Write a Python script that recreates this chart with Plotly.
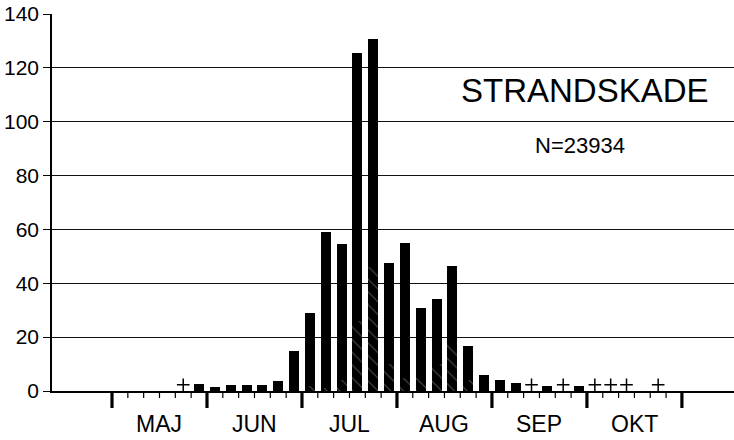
import plotly.graph_objects as go

# ---- data (pentads, 6 per month, May-October) ----
months = ["MAJ", "JUN", "JUL", "AUG", "SEP", "OKT"]
pentads_per_month = 6
totals = [0, 0, 0, 0, 0, 2.6,
          1.6, 2.1, 2.4, 2.1, 3.6, 15,
          28.8, 59, 54.5, 125.5, 130.8, 47.5,
          55, 30.8, 34, 46.3, 16.6, 6,
          4.1, 3, 0, 2, 0, 1.9,
          0, 0, 0, 0, 0, 0]
hatched = [0, 0, 0, 0, 0, 0,
           0, 0, 0, 0, 0, 0,
           2, 1, 4, 26, 46, 10,
           5, 5, 10, 18, 4, 0,
           0, 0, 0, 0, 0, 0,
           0, 0, 0, 0, 0, 0]
trace_pentads = [4, 26, 28, 30, 31, 32, 34]   # "+" = present, < 0.5
title_text = "STRANDSKADE"
n_text = "N=23934"
y_ticks = [0, 20, 40, 60, 80, 100, 120, 140]

n = len(totals)
x = list(range(n))
solid = [t - h for t, h in zip(totals, hatched)]
FONT = "Liberation Sans, Arial, Helvetica, sans-serif"
PLOT_H = 440 - 14 - 49

fig = go.Figure()
fig.add_trace(go.Bar(
    x=x, y=hatched, width=0.63,
    marker=dict(color="black", line=dict(width=0),
                pattern=dict(shape="\\", fgcolor="#9a9a9a", bgcolor="black",
                             size=9, solidity=0.12)),
    showlegend=False, hoverinfo="skip"))
fig.add_trace(go.Bar(
    x=x, y=solid, width=0.63,
    marker=dict(color="black", line=dict(width=0)),
    showlegend=False, hoverinfo="skip"))
fig.add_trace(go.Scatter(
    x=trace_pentads, y=[2.3] * len(trace_pentads), mode="markers",
    marker=dict(symbol="cross-thin", size=9, line=dict(color="black", width=1.5)),
    showlegend=False, hoverinfo="skip", cliponaxis=False))

month_bounds = [m * pentads_per_month - 0.5 for m in range(len(months) + 1)]
pentad_bounds = [i - 0.5 for i in range(n + 1)]

# pentad (minor) ticks and month (major) ticks below the axis
for b in pentad_bounds:
    major = b in month_bounds
    fig.add_shape(type="line", xref="x", yref="paper", x0=b, x1=b,
                  y0=0, y1=-(17 if major else 7) / PLOT_H,
                  line=dict(color="black", width=3.2 if major else 1.2))

fig.update_layout(
    width=734, height=440,
    margin=dict(l=52, r=0, t=14, b=49),
    paper_bgcolor="white", plot_bgcolor="white",
    barmode="stack", bargap=0,
    font=dict(family=FONT, color="black"),
    xaxis=dict(range=[-4.29, 38.79], showgrid=False, zeroline=False,
               showline=True, linecolor="black", linewidth=1.5,
               showticklabels=False, ticks="", automargin=False),
    yaxis=dict(range=[0, 140], tickmode="array", tickvals=y_ticks,
               showgrid=True, gridcolor="#111", gridwidth=1.3, zeroline=False,
               showline=True, linecolor="black", linewidth=1.6,
               ticks="outside", ticklen=7, tickwidth=1.3, tickcolor="black",
               tickfont=dict(size=21, family=FONT, color="black"),
               automargin=False),
)

for m, name in enumerate(months):
    fig.add_annotation(x=m * pentads_per_month + (pentads_per_month - 1) / 2,
                       xref="x", y=-0.088, yref="paper", text=name, showarrow=False,
                       font=dict(size=23, family=FONT, color="black"),
                       xanchor="center", yanchor="middle")

fig.add_annotation(x=0.7815, y=0.796, xref="paper", yref="paper", text=title_text,
                   showarrow=False, font=dict(size=33, family=FONT, color="black"),
                   xanchor="center", yanchor="middle")
fig.add_annotation(x=0.774, y=0.650, xref="paper", yref="paper", text=n_text,
                   showarrow=False, font=dict(size=22, family=FONT, color="black"),
                   xanchor="center", yanchor="middle")

fig.write_html("out.html", config={"displayModeBar": False},
               post_script="document.body.style.margin='0';document.body.style.overflow='hidden';")
